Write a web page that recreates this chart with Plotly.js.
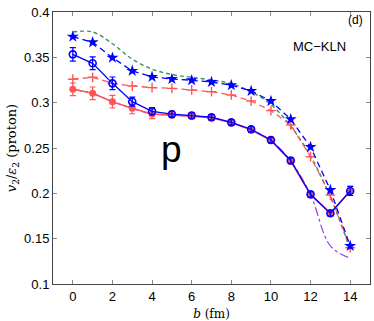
<!DOCTYPE html>
<html>
<head>
<meta charset="utf-8">
<script src="https://cdn.plot.ly/plotly-3.0.1.min.js"></script>
<style>
  html, body { margin: 0; padding: 0; background: #fff; }
  #plot { width: 374px; height: 321px; }
</style>
</head>
<body>
<div id="plot"></div>
<script>
// impact parameter b (fm)
let bVals = [0, 1, 2, 3, 4, 5, 6, 7, 8, 9, 10, 11, 12, 13, 14];

// dashed curves (ideal hydro style)
let greenDash = [0.378, 0.378, 0.365, 0.348, 0.337, 0.331, 0.328, 0.325, 0.321, 0.312, 0.298, 0.274, 0.241, 0.196, 0.138];
let blueStars = [0.3728, 0.3666, 0.3496, 0.3351, 0.3284, 0.3261, 0.3247, 0.3228, 0.3192, 0.3129, 0.3018, 0.2817, 0.2511, 0.2037, 0.1419];
let redPlus = [0.3258, 0.328, 0.3213, 0.3184, 0.3166, 0.3158, 0.314, 0.3121, 0.3085, 0.3018, 0.2912, 0.2754, 0.2404, 0.198, 0.14];

// solid curves with error bars
let blueCirc = [0.3533, 0.3434, 0.3213, 0.3011, 0.2905, 0.2873, 0.2858, 0.2839, 0.2783, 0.2706, 0.2588, 0.2362, 0.1989, 0.178, 0.2026];
let blueErr = [0.0075, 0.007, 0.007, 0.005, 0.004, 0.003, 0.003, 0.003, 0.003, 0.003, 0.003, 0.003, 0.003, 0.003, 0.005];
let redCirc = [0.3147, 0.3103, 0.3011, 0.2938, 0.2875, 0.2865, 0.2852, 0.2833, 0.2778, 0.2700, 0.2582, 0.2355, 0.1985, 0.178, 0.2026];
let redErr = [0.007, 0.007, 0.007, 0.006, 0.005, 0.003, 0.003, 0.003, 0.003, 0.003, 0.003, 0.003, 0.003, 0.003, 0.005];

// dash-dot curve
let purpleDot = [0.3147, 0.3103, 0.3011, 0.2938, 0.2875, 0.2865, 0.2852, 0.2833, 0.2778, 0.2700, 0.2582, 0.2355, 0.1985, 0.142, 0.1284];

let xTicks = [0, 2, 4, 6, 8, 10, 12, 14];
let yTicks = [0.1, 0.15, 0.2, 0.25, 0.3, 0.35, 0.4];
let yTickText = ["0.1", "0.15", "0.2", "0.25", "0.3", "0.35", "0.4"];

const BLUE = "rgb(0,0,255)";
const RED = "rgb(255,85,85)";
const GREEN = "rgb(60,145,90)";
const PURPLE = "rgb(165,55,235)";

let traces = [
  {
    x: bVals, y: purpleDot, mode: "lines", line: { color: PURPLE, width: 1.2, dash: "dashdot", shape: "spline" }
  },
  {
    x: bVals, y: greenDash, mode: "lines", line: { color: GREEN, width: 1.4, dash: "4px,3px", shape: "spline" }
  },
  {
    x: bVals, y: redPlus, mode: "lines+markers",
    line: { color: RED, width: 1.3, dash: "6px,4px" },
    marker: { symbol: "cross-thin", size: 7, line: { color: RED, width: 1.4 } }
  },
  {
    x: bVals, y: blueStars, mode: "lines+markers",
    line: { color: BLUE, width: 1.3, dash: "6px,4px" },
    marker: { symbol: "star", size: 9, color: BLUE }
  },
  {
    x: bVals, y: redCirc, mode: "lines+markers",
    line: { color: RED, width: 1.6 },
    marker: { symbol: "circle", size: 7, color: RED },
    error_y: { type: "data", array: redErr, visible: true, color: RED, thickness: 1.2, width: 3 }
  },
  {
    x: bVals, y: blueCirc, mode: "lines+markers",
    line: { color: BLUE, width: 1.3 },
    marker: { symbol: "circle-open", size: 7, color: BLUE, line: { width: 1.6 } },
    error_y: { type: "data", array: blueErr, visible: true, color: BLUE, thickness: 1.2, width: 3 }
  }
];

let axisCommon = {
  showgrid: false, zeroline: false, showline: true, mirror: "ticks",
  linecolor: "#444", linewidth: 1, ticks: "inside", ticklen: 4, tickcolor: "#888",
  tickfont: { family: "Liberation Sans, Arial, sans-serif", size: 13, color: "#000" }
};

let layout = {
  width: 374, height: 321,
  margin: { l: 53, r: 4, t: 12, b: 37 },
  paper_bgcolor: "#fff", plot_bgcolor: "#fff",
  showlegend: false,
  xaxis: Object.assign({}, axisCommon, {
    range: [-1, 15], tickvals: xTicks,
    title: { text: "<i>b</i> (fm)", font: { family: "DejaVu Serif, serif", size: 12, color: "#000" }, standoff: 7 }
  }),
  yaxis: Object.assign({}, axisCommon, {
    range: [0.1, 0.4], tickvals: yTicks, ticktext: yTickText,
    title: { text: "<i>v</i><sub>2</sub>/<i>ε</i><sub>2</sub> (proton)", font: { family: "DejaVu Serif, serif", size: 13, color: "#000" }, standoff: 4 }
  }),
  annotations: [
    { xref: "paper", yref: "paper", x: 0.985, y: 0.97, xanchor: "right", yanchor: "middle", text: "(d)", showarrow: false,
      font: { family: "Liberation Sans, Arial, sans-serif", size: 12, color: "#000" } },
    { xref: "paper", yref: "paper", x: 0.93, y: 0.875, xanchor: "right", yanchor: "middle", text: "MC\u2212KLN", showarrow: false,
      font: { family: "Liberation Sans, Arial, sans-serif", size: 13, color: "#000" } },
    { xref: "x", yref: "y", x: 5.0, y: 0.248, xanchor: "center", yanchor: "middle", text: "p", showarrow: false,
      font: { family: "Liberation Sans, Arial, sans-serif", size: 37, color: "#000" } }
  ]
};

Plotly.newPlot("plot", traces, layout, { displayModeBar: false, staticPlot: true });
</script>
</body>
</html>
